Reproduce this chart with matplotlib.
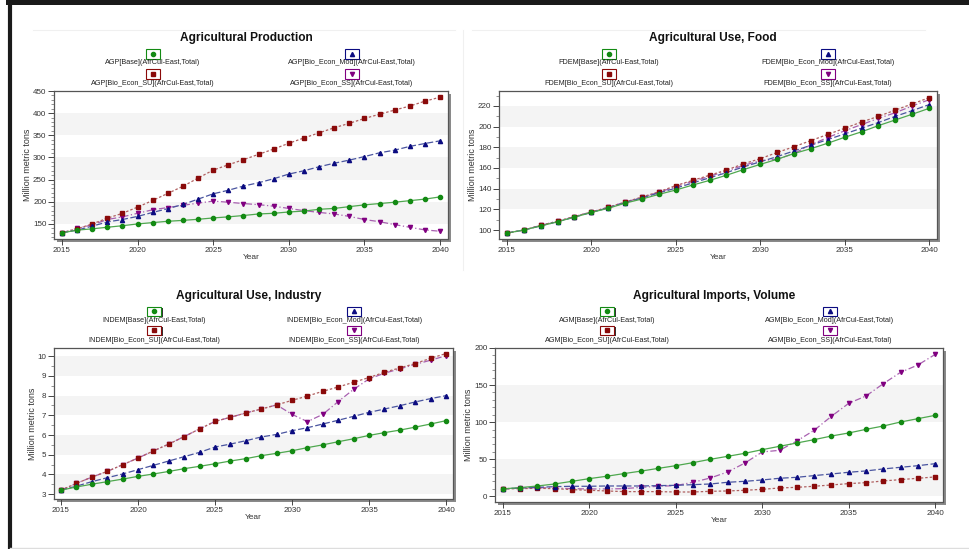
import matplotlib
matplotlib.use("Agg")
import matplotlib.pyplot as plt
from matplotlib.patches import Rectangle
from matplotlib.lines import Line2D
from matplotlib.ticker import MultipleLocator

plt.rcParams['font.family'] = ['Liberation Sans', 'DejaVu Sans']

years = list(range(2015, 2041))
scenarios = ["Base", "Bio_Econ_Mod", "Bio_Econ_SU", "Bio_Econ_SS"]

agp_base = [130, 136, 139, 142.5, 146, 150, 153, 156, 158, 160.5, 163.5, 166, 169, 172.5, 174, 177,
            179, 183, 185, 189, 193, 196, 199, 202.5, 206, 211]
agp_mod = [130, 136, 145, 154.5, 160, 167, 176, 184.5, 194, 206, 218, 226, 235.5, 243, 252, 262.5,
           270, 279, 287, 294, 302, 310.5, 316.5, 325, 331.5, 337.5]
agp_su = [130, 139, 150, 163, 174, 188, 203, 219, 235, 253.5, 271.5, 283.5, 295, 307, 319, 332,
          344, 355.5, 367, 377, 388, 397.5, 407, 416, 427, 436]
agp_ss = [130, 140, 148, 160, 166, 174, 182, 187, 192, 197, 201.5, 199, 196, 193.5, 190, 185,
          180, 176, 172.5, 167, 160, 155, 148.5, 142.5, 136.5, 133.5]

fdem_base = [97, 100, 104, 108, 112.5, 117, 121, 126, 130, 134.5, 138.7, 143.5, 148, 153, 158.4, 163.5,
             168.4, 174, 178.7, 184, 189.7, 195, 201, 206.5, 212, 217.7]
fdem_mod = [97, 100, 104, 108, 112.5, 117, 121.5, 126.5, 131, 136, 140.5, 145.5, 150.5, 155.5, 161, 166,
            171, 176.5, 182, 187.5, 193, 198.5, 204, 210, 215.5, 221.3]
fdem_su = [97, 100, 104.5, 108.5, 113, 117.5, 122, 127, 132, 137, 143, 148, 153, 158, 164, 169,
           175, 180.6, 186.5, 192.5, 198.4, 204.5, 210, 216, 222, 228]
fdem_ss = [97, 100, 104.5, 108.5, 113, 117.5, 122, 127, 131.5, 136.5, 142, 147, 152, 157, 162.5, 167,
           168.5, 174, 182.5, 189.5, 196, 202, 208, 213.5, 220, 226]

indem_base = [3.2, 3.36, 3.5, 3.63, 3.76, 3.9, 4.02, 4.15, 4.29, 4.41, 4.54, 4.68, 4.8, 4.95, 5.07, 5.2,
              5.36, 5.5, 5.66, 5.81, 5.98, 6.12, 6.25, 6.4, 6.56, 6.73]
indem_mod = [3.2, 3.4, 3.63, 3.83, 4.02, 4.24, 4.46, 4.68, 4.9, 5.12, 5.39, 5.54, 5.71, 5.9, 6.03, 6.22,
             6.37, 6.56, 6.75, 6.95, 7.15, 7.32, 7.49, 7.68, 7.85, 8.0]
indem_su = [3.2, 3.54, 3.86, 4.15, 4.49, 4.83, 5.19, 5.54, 5.92, 6.31, 6.69, 6.9, 7.12, 7.32, 7.53, 7.76,
            7.98, 8.22, 8.44, 8.68, 8.92, 9.19, 9.41, 9.63, 9.9, 10.14]
indem_ss = [3.2, 3.54, 3.86, 4.15, 4.49, 4.83, 5.19, 5.54, 5.92, 6.31, 6.69, 6.9, 7.12, 7.32, 7.53, 7.05,
            6.68, 7.05, 7.7, 8.32, 8.85, 9.14, 9.36, 9.59, 9.8, 10.03]

agm_base = [10, 11.7, 13.9, 16.6, 20.2, 23.8, 27, 30.6, 34, 37.7, 41.3, 45.4, 49.9, 53.9, 58, 62.9,
            67.4, 71.9, 76.4, 81.3, 85.4, 90.3, 94.8, 100.2, 104.7, 109.2]
agm_mod = [10, 11.2, 12.1, 13, 13.5, 13.5, 13.9, 13.9, 13.9, 14.4, 14.8, 15.7, 16.6, 18.9, 20.2, 22,
           24.3, 25.6, 27.9, 30.1, 32.4, 34.2, 36.9, 39.1, 41.3, 44]
agm_su = [10, 10.3, 10.8, 10.3, 9, 8.1, 7.2, 6.3, 6.3, 6.3, 5.8, 5.8, 6.7, 7.2, 8.1, 9.4,
          11.2, 12.1, 13.5, 15.3, 17.1, 18.4, 20.7, 22.5, 24.3, 26.1]
agm_ss = [10, 11.2, 11.7, 11.2, 10.3, 9.9, 9.9, 10.3, 12.1, 13.5, 14.4, 18.9, 24.7, 32.8, 44.9, 59.8,
          62, 74.6, 89, 107.9, 125.4, 135.3, 151.9, 167.2, 177.1, 191.4]

W, H = 970, 549
fig = plt.figure(figsize=(W / 100, H / 100), dpi=100)
fig.patch.set_facecolor("white")


def fx(x):
    return x / W


def fy(y):
    return 1 - y / H


# series styles: (marker color, line color, linestyle, marker)
styles = {
    "Base": ("#138a13", "#4fa84f", "-", "o"),
    "Bio_Econ_Mod": ("#0b0b80", "#4a55a0", (0, (5, 2)), "^"),
    "Bio_Econ_SU": ("#8a0a0a", "#b06060", (0, (2, 1.6)), "s"),
    "Bio_Econ_SS": ("#800080", "#a860b0", (0, (5, 2, 1, 2)), "v"),
}

panels = [
    dict(title="Agricultural Production", prefix="AGP",
         data={"Base": agp_base, "Bio_Econ_Mod": agp_mod, "Bio_Econ_SU": agp_su, "Bio_Econ_SS": agp_ss},
         box=(54, 448, 91, 239), xlim=(2014.47, 2040.53), ylim=(116, 450), minor=10,
         bands=[(150, 200), (250, 300), (350, 400)], yticks=[150, 200, 250, 300, 350, 400, 450],
         title_y=38, rows=(54, 63, 74, 84), cols=(153, 352), ylabel_x=27),
    dict(title="Agricultural Use, Food", prefix="FDEM",
         data={"Base": fdem_base, "Bio_Econ_Mod": fdem_mod, "Bio_Econ_SU": fdem_su, "Bio_Econ_SS": fdem_ss},
         box=(499, 937, 91, 239), xlim=(2014.53, 2040.47), ylim=(91.3, 234.5), minor=10,
         bands=[(120, 140), (160, 180), (200, 220)], yticks=[100, 120, 140, 160, 180, 200, 220],
         title_y=38, rows=(54, 63, 74, 84), cols=(609, 828), ylabel_x=473),
    dict(title="Agricultural Use, Industry", prefix="INDEM",
         data={"Base": indem_base, "Bio_Econ_Mod": indem_mod, "Bio_Econ_SU": indem_su, "Bio_Econ_SS": indem_ss},
         box=(54, 453, 348, 499), xlim=(2014.55, 2040.45), ylim=(2.75, 10.42), minor=0.5,
         bands=[(3, 4), (5, 6), (7, 8), (9, 10)], yticks=[3, 4, 5, 6, 7, 8, 9, 10],
         title_y=296, rows=(311, 320, 330, 340), cols=(154, 354), ylabel_x=33),
    dict(title="Agricultural Imports, Volume", prefix="AGM",
         data={"Base": agm_base, "Bio_Econ_Mod": agm_mod, "Bio_Econ_SU": agm_su, "Bio_Econ_SS": agm_ss},
         box=(495, 943, 348, 502), xlim=(2014.55, 2040.45), ylim=(-7.7, 200), minor=10,
         bands=[(0, 50), (100, 150)], yticks=[0, 50, 100, 150, 200],
         title_y=296, rows=(311, 320, 330, 340), cols=(607, 830), ylabel_x=469),
]

# outer frame lines of screenshot
fig.add_artist(Line2D([fx(8), fx(970)], [fy(2), fy(2)], color="#1a1a1a", lw=3.6, transform=fig.transFigure))
fig.add_artist(Line2D([fx(10), fx(10)], [fy(0), fy(547)], color="#1a1a1a", lw=3.0, transform=fig.transFigure))
fig.add_artist(Line2D([fx(10), fx(970)], [fy(547.5), fy(547.5)], color="#dddddd", lw=1.0, transform=fig.transFigure))
# faint panel separators
fig.add_artist(Line2D([fx(33), fx(455)], [fy(30), fy(30)], color="#f0f0f0", lw=0.8, transform=fig.transFigure))
fig.add_artist(Line2D([fx(472), fx(925)], [fy(30), fy(30)], color="#f0f0f0", lw=0.8, transform=fig.transFigure))
fig.add_artist(Line2D([fx(463), fx(463)], [fy(30), fy(270)], color="#f0f0f0", lw=0.8, transform=fig.transFigure))

for p in panels:
    x0, x1, y0, y1 = p["box"]
    # shadow
    fig.add_artist(Rectangle((fx(x0 + 3), fy(y1 + 3)), fx(x1 - x0), (y1 - y0) / H,
                             transform=fig.transFigure, facecolor="#8a8a8a", edgecolor="none", zorder=-1))
    ax = fig.add_axes([fx(x0), fy(y1), fx(x1 - x0), (y1 - y0) / H])
    ax.set_facecolor("white")
    for lo, hi in p["bands"]:
        ax.axhspan(lo, hi, color="#f4f4f4", lw=0, zorder=0)
    for name in ["Bio_Econ_SS", "Bio_Econ_SU", "Bio_Econ_Mod", "Base"]:
        mc, lc, ls, mk = styles[name]
        ax.plot(years, p["data"][name], color=lc, linestyle=ls, lw=0.9, zorder=2)
        ax.plot(years, p["data"][name], linestyle="none", marker=mk, markersize=3.0,
                markerfacecolor=mc, markeredgecolor=mc, zorder=3)
    ax.set_xlim(*p["xlim"])
    ax.set_ylim(*p["ylim"])
    ax.set_xticks([2015, 2020, 2025, 2030, 2035, 2040])
    ax.xaxis.set_minor_locator(MultipleLocator(1))
    ax.set_yticks(p["yticks"])
    ax.yaxis.set_minor_locator(MultipleLocator(p["minor"]))
    ax.tick_params(axis="both", which="major", labelsize=5.8, colors="#444444", labelcolor="#333333",
                   length=4, width=0.7, direction="out", pad=1.5)
    ax.tick_params(axis="both", which="minor", length=2, width=0.5, colors="#666666", direction="out")
    ax.tick_params(axis="x", which="minor", length=0)
    for s in ax.spines.values():
        s.set_color("#555555")
        s.set_linewidth(0.9)
    ax.set_xlabel("Year", fontsize=6, color="#333333", labelpad=0.5)
    fig.text(fx(p["ylabel_x"]), fy((y0 + y1) / 2), "Million metric tons", rotation=90,
             ha="center", va="center", fontsize=6.5, color="#333333")

    # title
    fig.text(fx((x0 + x1) / 2 - 5), fy(p["title_y"]), p["title"], ha="center", va="center",
             fontsize=8.6, fontweight="bold", color="#111111")

    # legend (two columns, marker box above label)
    order = [("Base", 0, 0), ("Bio_Econ_Mod", 1, 0), ("Bio_Econ_SU", 0, 1), ("Bio_Econ_SS", 1, 1)]
    for name, col, row in order:
        mc, lc, ls, mk = styles[name]
        cx = p["cols"][col]
        by = p["rows"][2 * row]
        ty = p["rows"][2 * row + 1]
        bw, bh = 14, 9
        fig.add_artist(Rectangle((fx(cx - bw / 2 + 1.5), fy(by + bh / 2 + 1.5)), bw / W, bh / H,
                                 transform=fig.transFigure, facecolor="#333333", edgecolor="none"))
        fig.add_artist(Rectangle((fx(cx - bw / 2), fy(by + bh / 2)), bw / W, bh / H,
                                 transform=fig.transFigure, facecolor="white", edgecolor=mc, lw=0.8))
        fig.add_artist(Line2D([fx(cx)], [fy(by)], marker=mk, markersize=3.0, markerfacecolor=mc,
                              markeredgecolor=mc, linestyle="none", transform=fig.transFigure))
        fig.text(fx(cx), fy(ty), f"{p['prefix']}[{name}](AfrCul-East,Total)", ha="center", va="center",
                 fontsize=5.2, color="#222222")

fig.savefig("out.png", dpi=100, facecolor="white")
